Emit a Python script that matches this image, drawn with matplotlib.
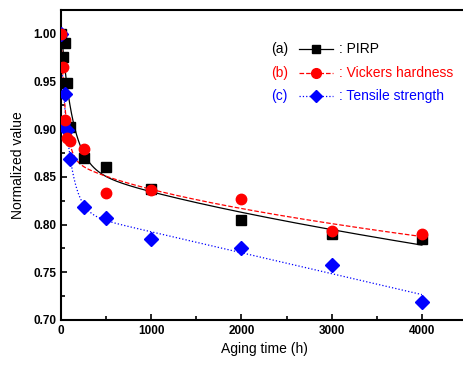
import numpy as np
import matplotlib
matplotlib.use("Agg")
import matplotlib.pyplot as plt
from matplotlib.ticker import MultipleLocator
from matplotlib.lines import Line2D

plt.rcParams['font.family'] = ['Liberation Sans', 'DejaVu Sans']

# Data
time_h = [0, 24, 48, 72, 100, 250, 500, 1000, 2000, 3000, 4000]
pirp = [1.000, 0.976, 0.990, 0.948, 0.902, 0.870, 0.860, 0.837, 0.805, 0.790, 0.785]
vickers = [1.000, 0.965, 0.910, 0.891, 0.888, 0.879, 0.833, 0.836, 0.827, 0.793, 0.790]
tensile = [1.000, 0.907, 0.937, 0.899, 0.869, 0.818, 0.807, 0.785, 0.775, 0.758, 0.719]

prefixes = ['(a)', '(b)', '(c)']
names = [': PIRP', ': Vickers hardness', ': Tensile strength']
colors = ['black', 'red', 'blue']
markers = ['s', 'o', 'D']
styles = ['-', '--', ':']
msizes = [6.5, 7.5, 7]
# exponent ranges for the fitted trend (blue trend is exp decay + linear)
p_ranges = [(0.2, 1.0), (0.2, 1.0), (1.0, 1.0)]


def fit_curve(x, y, xs, prange):
    """Least-squares fit y = a + b*exp(-x/tau) + c*x**p, grid over tau and p."""
    x = np.asarray(x, float)
    y = np.asarray(y, float)
    best = None
    for tau in np.linspace(10, 400, 79):
        for p in np.linspace(prange[0], prange[1], 33):
            A = np.column_stack([np.ones_like(x), np.exp(-x / tau), x ** p])
            coef, *_ = np.linalg.lstsq(A, y, rcond=None)
            r = np.sum((A @ coef - y) ** 2)
            if best is None or r < best[0]:
                best = (r, tau, p, coef)
    _, tau, p, coef = best
    return coef[0] + coef[1] * np.exp(-xs / tau) + coef[2] * xs ** p


fig = plt.figure(figsize=(4.64, 3.67), dpi=100)
ax = fig.add_axes([61 / 464, 47 / 367, 406 / 464, 310 / 367])

xs = np.linspace(0, 4000, 2000)
all_y = [pirp, vickers, tensile]
for i in [0, 2, 1]:
    y = all_y[i]
    ys = fit_curve(time_h, y, xs, p_ranges[i])
    ax.plot(xs, ys, color=colors[i], ls=styles[i], lw=0.9, zorder=2)
    ax.plot(time_h, y, ls='none', marker=markers[i], color=colors[i],
            ms=msizes[i], mec=colors[i], zorder=3)

ax.set_xlim(0, 4500)
ax.set_ylim(0.70, 1.025)
ax.xaxis.set_major_locator(MultipleLocator(1000))
ax.xaxis.set_minor_locator(MultipleLocator(500))
ax.yaxis.set_major_locator(MultipleLocator(0.05))
ax.yaxis.set_minor_locator(MultipleLocator(0.025))
ax.yaxis.set_major_formatter(matplotlib.ticker.FormatStrFormatter('%.2f'))
ax.tick_params(which='both', direction='in', top=False, right=False, width=1.2)
ax.tick_params(which='major', length=4.5, labelsize=8.5)
ax.tick_params(which='minor', length=3)
for lab in ax.get_xticklabels() + ax.get_yticklabels():
    lab.set_fontweight('bold')
for s in ax.spines.values():
    s.set_linewidth(1.5)

ax.set_xlabel('Aging time (h)', fontsize=10, labelpad=4)
ax.set_ylabel('Normalized value', fontsize=10, labelpad=6)

# Custom legend
leg_y = [0.875, 0.798, 0.724]
for i in range(3):
    ax.text(0.518, leg_y[i], prefixes[i], transform=ax.transAxes, color=colors[i],
            fontsize=10, va='center', ha='left')
    ax.add_line(Line2D([0.585, 0.67], [leg_y[i], leg_y[i]], transform=ax.transAxes,
                       color=colors[i], ls=styles[i], lw=0.9))
    ax.add_line(Line2D([0.627], [leg_y[i]], transform=ax.transAxes, color=colors[i],
                       marker=markers[i], ms=msizes[i] - 0.5, ls='none'))
    ax.text(0.685, leg_y[i], names[i], transform=ax.transAxes, color=colors[i],
            fontsize=10, va='center', ha='left')

fig.savefig('out.png', dpi=100)
